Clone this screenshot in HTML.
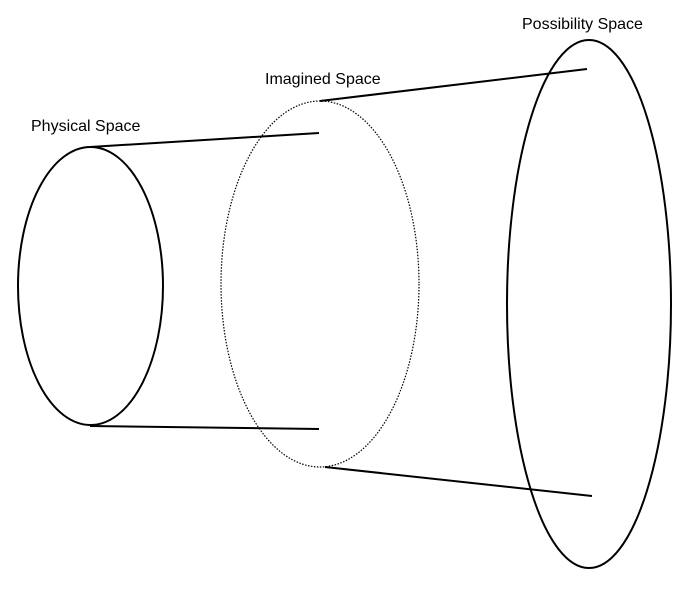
<!DOCTYPE html>
<html><head><style>
html,body{margin:0;padding:0;background:#fff;width:692px;height:596px;overflow:hidden}
svg{display:block}
text{font-family:"Liberation Sans",sans-serif;font-size:16px;fill:#000}
</style></head><body>
<svg width="692" height="596" viewBox="0 0 692 596">
<ellipse cx="90.5" cy="286" rx="72.5" ry="139" fill="none" stroke="#000" stroke-width="2"/>
<ellipse cx="320" cy="284" rx="99" ry="183" fill="none" stroke="#000" stroke-width="1.2" stroke-dasharray="1.5 1.5"/>
<ellipse cx="589" cy="304" rx="82" ry="264" fill="none" stroke="#000" stroke-width="2"/>
<line x1="90" y1="147" x2="319" y2="133" stroke="#000" stroke-width="2"/>
<line x1="90" y1="426" x2="319" y2="429" stroke="#000" stroke-width="2"/>
<line x1="320" y1="101" x2="587" y2="69" stroke="#000" stroke-width="2"/>
<line x1="325" y1="467" x2="592" y2="496" stroke="#000" stroke-width="2"/>
<text x="31" y="131">Physical Space</text>
<text x="265" y="84">Imagined Space</text>
<text x="522" y="29">Possibility Space</text>
</svg>
</body></html>
